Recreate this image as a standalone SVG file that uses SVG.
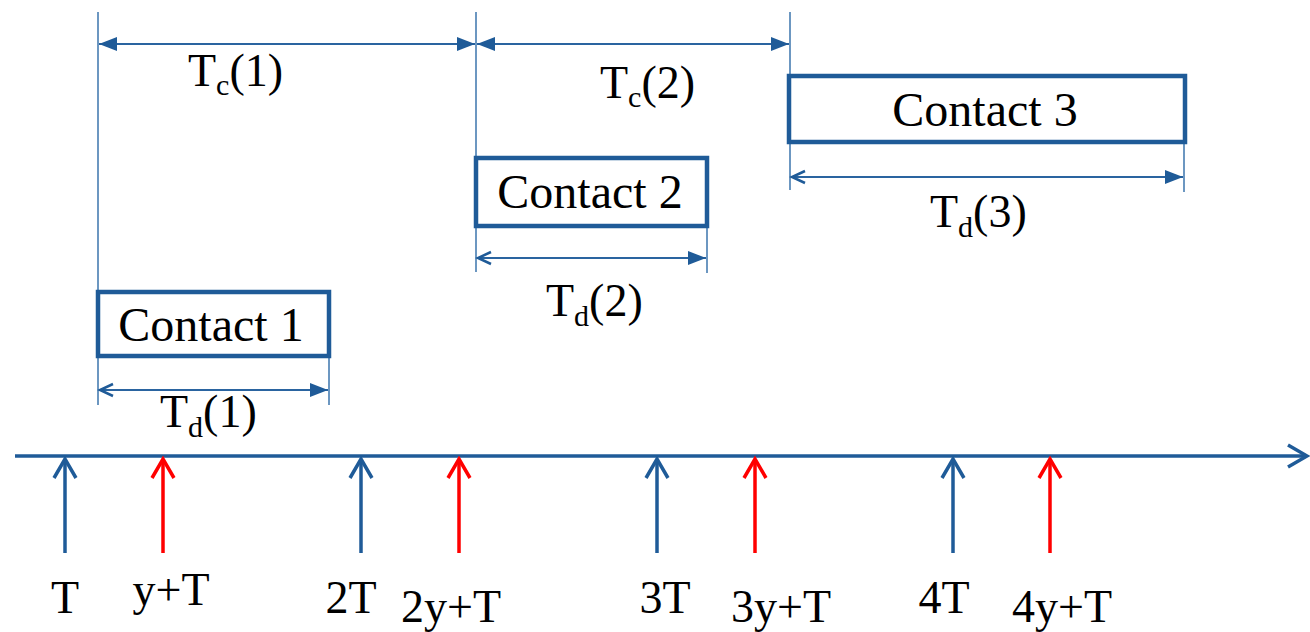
<svg xmlns="http://www.w3.org/2000/svg" width="1310" height="632" viewBox="0 0 1310 632">
<style>
.t{font-family:"Liberation Serif","Times New Roman",serif;fill:#000;font-size:46px}
.c{font-size:48px}
.s{font-size:30px}
.box{fill:#fff;stroke:#1f5b98;stroke-width:4.5}
.guide{stroke:#3b74ad;stroke-width:1.5;fill:none}
.dim{stroke:#2a64a0;stroke-width:2;fill:none}
.blue{stroke:#1f5b98;stroke-width:3.5;fill:none}
.red{stroke:#ff0000;stroke-width:3.5;fill:none}
</style>
<defs>
<marker id="fe" markerUnits="userSpaceOnUse" markerWidth="20" markerHeight="16" refX="18" refY="8" orient="auto"><path d="M0,1 L18,8 L0,15 Z" fill="#1f5b98"/></marker>
<marker id="fs" markerUnits="userSpaceOnUse" markerWidth="20" markerHeight="16" refX="2" refY="8" orient="auto"><path d="M20,1 L2,8 L20,15 Z" fill="#1f5b98"/></marker>
<marker id="os" markerUnits="userSpaceOnUse" markerWidth="20" markerHeight="16" refX="2" refY="8" orient="auto"><path d="M16,2 L3,8 L16,14" fill="none" stroke="#1f5b98" stroke-width="2.5"/></marker>
<marker id="ob" markerUnits="userSpaceOnUse" markerWidth="26" markerHeight="28" refX="21" refY="14" orient="auto"><path d="M2,3 L21,14 L2,25" fill="none" stroke="#1f5b98" stroke-width="3.5"/></marker>
<marker id="or" markerUnits="userSpaceOnUse" markerWidth="26" markerHeight="28" refX="21" refY="14" orient="auto"><path d="M2,3 L21,14 L2,25" fill="none" stroke="#ff0000" stroke-width="3.5"/></marker>
</defs>
<g id="connectors">
<line class="guide" x1="98" y1="12" x2="98" y2="405"/>
<line class="guide" x1="476" y1="12" x2="476" y2="272"/>
<line class="guide" x1="790" y1="12" x2="790" y2="190"/>
<line class="guide" x1="329" y1="356" x2="329" y2="405"/>
<line class="guide" x1="707" y1="226" x2="707" y2="273"/>
<line class="guide" x1="1184" y1="142" x2="1184" y2="192"/>
<line class="dim" x1="99" y1="44" x2="475" y2="44" marker-start="url(#fs)" marker-end="url(#fe)"/>
<line class="dim" x1="477" y1="44" x2="789" y2="44" marker-start="url(#fs)" marker-end="url(#fe)"/>
<line class="dim" x1="99" y1="390" x2="328" y2="390" marker-start="url(#os)" marker-end="url(#fe)"/>
<line class="dim" x1="477" y1="258" x2="706" y2="258" marker-start="url(#os)" marker-end="url(#fe)"/>
<line class="dim" x1="791" y1="177" x2="1183" y2="177" marker-start="url(#os)" marker-end="url(#fe)"/>
<line class="blue" x1="15" y1="456" x2="1307" y2="456" marker-end="url(#ob)"/>
<line class="blue" x1="65" y1="553" x2="65" y2="459" marker-end="url(#ob)"/>
<line class="red" x1="163" y1="553" x2="163" y2="459" marker-end="url(#or)"/>
<line class="blue" x1="361" y1="553" x2="361" y2="459" marker-end="url(#ob)"/>
<line class="red" x1="459" y1="553" x2="459" y2="459" marker-end="url(#or)"/>
<line class="blue" x1="657" y1="553" x2="657" y2="459" marker-end="url(#ob)"/>
<line class="red" x1="755" y1="553" x2="755" y2="459" marker-end="url(#or)"/>
<line class="blue" x1="953" y1="553" x2="953" y2="459" marker-end="url(#ob)"/>
<line class="red" x1="1050" y1="553" x2="1050" y2="459" marker-end="url(#or)"/>
</g>
<g id="contact1"><rect class="box" x="98" y="292" width="231" height="64"/><text class="t c" x="211" y="341" text-anchor="middle">Contact 1</text></g>
<g id="contact2"><rect class="box" x="476" y="158" width="231" height="68"/><text class="t c" x="590" y="208" text-anchor="middle">Contact 2</text></g>
<g id="contact3"><rect class="box" x="789" y="76" width="396" height="66"/><text class="t c" x="985" y="126" text-anchor="middle">Contact 3</text></g>
<g id="labels">
<text class="t" x="188" y="86">T<tspan class="s" dy="9">c</tspan><tspan dy="-9">(1)</tspan></text>
<text class="t" x="600" y="98">T<tspan class="s" dy="9">c</tspan><tspan dy="-9">(2)</tspan></text>
<text class="t" x="160" y="427">T<tspan class="s" dy="10">d</tspan><tspan dy="-10">(1)</tspan></text>
<text class="t" x="546" y="316">T<tspan class="s" dy="10">d</tspan><tspan dy="-10">(2)</tspan></text>
<text class="t" x="930" y="227">T<tspan class="s" dy="10">d</tspan><tspan dy="-10">(3)</tspan></text>
<text class="t" x="65" y="613" text-anchor="middle">T</text>
<text class="t" x="171" y="605" text-anchor="middle">y+T</text>
<text class="t" x="351" y="613" text-anchor="middle">2T</text>
<text class="t" x="451" y="622" text-anchor="middle">2y+T</text>
<text class="t" x="665" y="613" text-anchor="middle">3T</text>
<text class="t" x="781" y="622" text-anchor="middle">3y+T</text>
<text class="t" x="944" y="613" text-anchor="middle">4T</text>
<text class="t" x="1062" y="622" text-anchor="middle">4y+T</text>
</g>
</svg>
